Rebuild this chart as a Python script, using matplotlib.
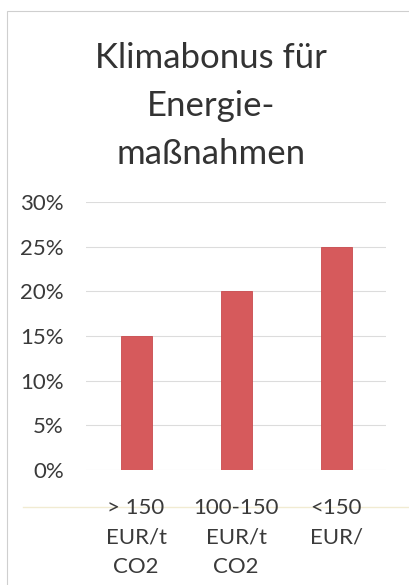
import matplotlib
matplotlib.use("Agg")
import matplotlib.pyplot as plt
from matplotlib.patches import Rectangle
from matplotlib.ticker import PercentFormatter

categories = ["> 150\nEUR/t\nCO2", "100-150\nEUR/t\nCO2", "<150\nEUR/"]
bonus = [0.15, 0.20, 0.25]
yticks = [0, 0.05, 0.10, 0.15, 0.20, 0.25, 0.30]
title = "Klimabonus für\nEnergie-\nmaßnahmen"

plt.rcParams['font.family'] = ['Lato', 'DejaVu Sans']

fig = plt.figure(figsize=(4.09, 5.85), dpi=100)
fig.patch.set_facecolor("white")

# chart frame (scan of the original slide), kept behind the axes
fig.patches.append(Rectangle((7 / 409, -0.1), 1.0, 1.1 - 11 / 585, transform=fig.transFigure,
                             fill=False, edgecolor="#cfcfcf", lw=0.8, zorder=-2))
fig.add_artist(plt.Line2D([23 / 409, 1.0], [1 - 507 / 585] * 2, transform=fig.transFigure,
                          color="#f1ebd2", lw=1.0, zorder=-1))

ax = fig.add_axes([86 / 409, 1 - 470 / 585, 300 / 409, 268 / 585])
ax.patch.set_alpha(0)
x = range(len(categories))
ax.bar(x, bonus, width=0.31, color="#d65a5c", edgecolor="#c94b4e", lw=0.6, zorder=3)

ax.set_xlim(-0.5, 2.5)
ax.set_ylim(0, 0.30)
ax.set_yticks(yticks)
ax.yaxis.set_major_formatter(PercentFormatter(1.0, decimals=0))
ax.grid(axis="y", color="#dcdcdc", lw=0.8, zorder=0)
for s in ax.spines.values():
    s.set_visible(False)
ax.tick_params(axis="both", length=0, labelsize=16, colors="#3a3a3a")
ax.tick_params(axis="y", pad=16)
ax.tick_params(axis="x", pad=20)
ax.set_xticks(list(x))
ax.set_xticklabels(categories, linespacing=1.6)

fig.text(211 / 409, 1 - 106 / 585, title, ha="center", va="center",
         fontsize=25, color="#333333", linespacing=1.6)

fig.savefig("out.png", dpi=100)
